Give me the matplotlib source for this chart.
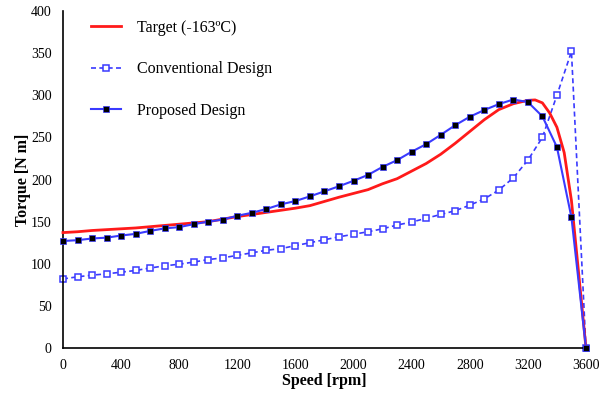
import numpy as np
import matplotlib
matplotlib.use("Agg")
import matplotlib.pyplot as plt

# speed points of the two designs (rpm)
speed = [0, 100, 200, 300, 400, 500, 600, 700, 800, 900, 1000, 1100, 1200,
         1300, 1400, 1500, 1600, 1700, 1800, 1900, 2000, 2100, 2200, 2300,
         2400, 2500, 2600, 2700, 2800, 2900, 3000, 3100, 3200, 3300, 3400,
         3500, 3600]

proposed = [127, 128, 130, 131, 133.5, 135.5, 139, 142, 143.5, 147, 150,
            152.5, 157, 160.5, 165, 170.5, 174.5, 180, 186, 192, 198.5,
            205.5, 215, 223, 233, 242, 253, 264.5, 274.5, 282.5, 289.5,
            295, 292, 275, 238.5, 155, 0]

conventional = [82, 84.5, 86.5, 88, 90, 92, 95, 97.5, 99.5, 102, 105, 107,
                110, 113, 116, 118, 121.5, 125, 128.5, 132, 135, 138, 141.5,
                146, 149.5, 154, 158.5, 163, 169.5, 177, 187.5, 202, 223,
                250, 300, 352, 0]

# target curve (-163 C)
target_speed = [0, 100, 200, 300, 400, 500, 600, 700, 800, 900, 1000, 1100,
                1200, 1300, 1400, 1500, 1600, 1700, 1800, 1900, 2000, 2100,
                2200, 2300, 2400, 2500, 2600, 2700, 2800, 2900, 3000, 3100,
                3200, 3250, 3300, 3350, 3400, 3450, 3500, 3550, 3600]
target = [137, 138, 139.5, 140.5, 141.5, 142.5, 144, 145.5, 147, 148.5, 150,
          153, 156, 158.5, 161, 163.5, 166, 169, 174, 179, 183.5, 188, 195,
          201, 210, 219, 230, 243, 257, 271, 283, 290, 294, 294.5, 291, 279,
          262, 232, 175, 88, 0]

plt.rcParams['font.family'] = ['Liberation Serif', 'DejaVu Serif']

fig = plt.figure(figsize=(6.15, 3.95), dpi=100)
ax = fig.add_axes([0.1024, 0.119, 0.8504, 0.853])

blue = "#3a3aff"
ax.plot(target_speed, target, color="#ff1a1a", lw=2.0, label="Target (-163ºC)", zorder=3)
ax.plot(speed, conventional, color=blue, lw=1.2, ls=(0, (3, 2)), marker="s", ms=4,
        mfc="white", mec=blue, mew=1.1, label="Conventional Design", zorder=2)
ax.plot(speed, proposed, color=blue, lw=1.5, marker="s", ms=4.5,
        mfc="black", mec=blue, mew=0.5, label="Proposed Design", zorder=4)

ax.set_xlim(0, 3600)
ax.set_ylim(0, 400)
ax.set_xticks(np.arange(0, 3601, 400))
ax.set_yticks(np.arange(0, 401, 50))
ax.tick_params(length=0, labelsize=10)
ax.tick_params(axis="y", pad=8)
ax.tick_params(axis="x", pad=8)
for s in ["top", "right"]:
    ax.spines[s].set_visible(False)
for s in ["left", "bottom"]:
    ax.spines[s].set_linewidth(1.2)
for ln in ax.lines:
    ln.set_clip_on(False)

ax.set_xlabel("Speed [rpm]", fontsize=11.5, fontweight="bold", labelpad=1)
ax.set_ylabel("Torque [N m]", fontsize=11.5, fontweight="bold", labelpad=0)

ax.legend(loc="upper left", bbox_to_anchor=(0.027, 1.017), frameon=False,
          fontsize=11.5, handlelength=1.85, labelspacing=1.6, handletextpad=1.0)

fig.savefig("out.png", dpi=100)
